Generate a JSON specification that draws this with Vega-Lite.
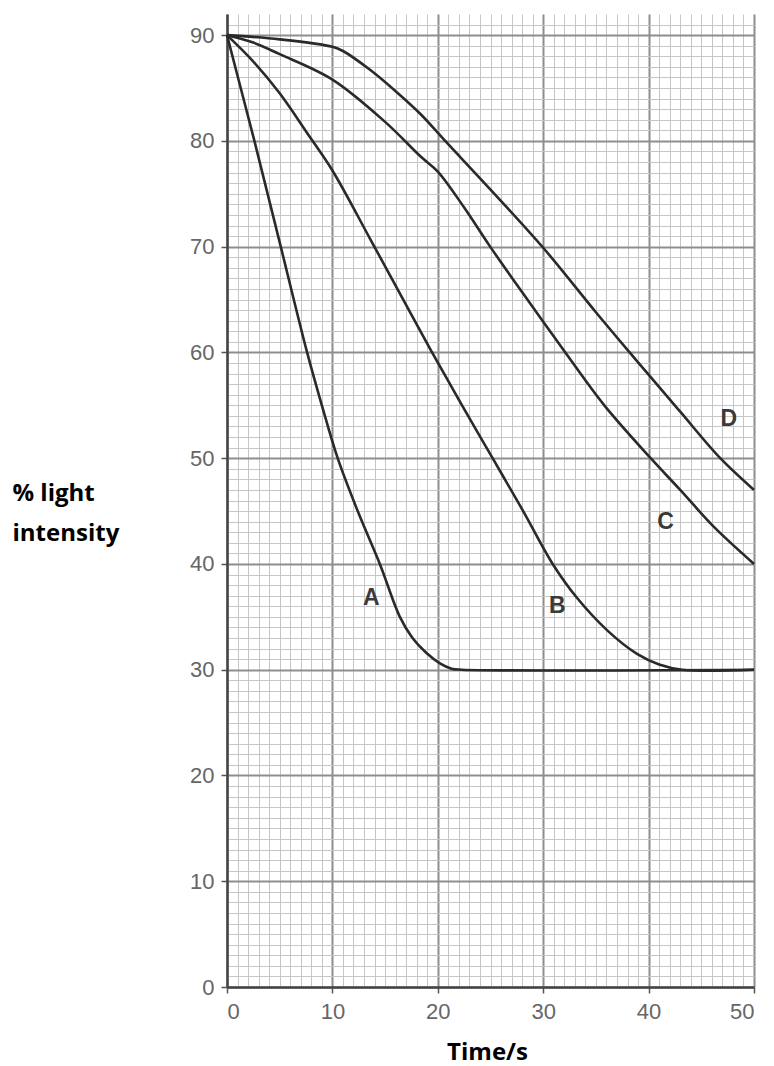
{
  "$schema": "https://vega.github.io/schema/vega-lite/v6.json",
  "autosize": {"type": "none"},
  "padding": {"left": 227, "top": 14, "right": 20, "bottom": 79},
  "width": 527,
  "height": 973,
  "background": "white",
  "config": {"view": {"stroke": null}},
  "datasets": {
    "curves": [
      {"series": "A", "t": 0, "p": 90}, {"series": "A", "t": 1.3, "p": 85}, {"series": "A", "t": 2.6, "p": 80}, {"series": "A", "t": 5.1, "p": 70},
      {"series": "A", "t": 7.6, "p": 60}, {"series": "A", "t": 9.0, "p": 55}, {"series": "A", "t": 10.5, "p": 50}, {"series": "A", "t": 12.4, "p": 45}, {"series": "A", "t": 14.5, "p": 40},
      {"series": "A", "t": 16.4, "p": 35}, {"series": "A", "t": 17.6, "p": 33}, {"series": "A", "t": 18.9, "p": 31.6}, {"series": "A", "t": 20.2, "p": 30.6},
      {"series": "A", "t": 21.3, "p": 30.1}, {"series": "A", "t": 22.3, "p": 30}, {"series": "A", "t": 50, "p": 30},
      {"series": "B", "t": 0, "p": 90}, {"series": "B", "t": 2.5, "p": 87.5}, {"series": "B", "t": 5, "p": 84.5}, {"series": "B", "t": 7.7, "p": 80.6}, {"series": "B", "t": 10, "p": 77.2},
      {"series": "B", "t": 13.6, "p": 70.7}, {"series": "B", "t": 16.5, "p": 65.4}, {"series": "B", "t": 19.4, "p": 60.1}, {"series": "B", "t": 22.3, "p": 55}, {"series": "B", "t": 25.2, "p": 50},
      {"series": "B", "t": 28.1, "p": 45}, {"series": "B", "t": 30.9, "p": 40}, {"series": "B", "t": 33.2, "p": 36.8}, {"series": "B", "t": 36.1, "p": 33.7},
      {"series": "B", "t": 38.9, "p": 31.5}, {"series": "B", "t": 41, "p": 30.5}, {"series": "B", "t": 43.2, "p": 30}, {"series": "B", "t": 50, "p": 30},
      {"series": "C", "t": 0, "p": 90}, {"series": "C", "t": 2.5, "p": 89.3}, {"series": "C", "t": 5, "p": 88.2}, {"series": "C", "t": 10, "p": 85.8},
      {"series": "C", "t": 15, "p": 81.8}, {"series": "C", "t": 18.4, "p": 78.5}, {"series": "C", "t": 20, "p": 77.1}, {"series": "C", "t": 22.5, "p": 73.7},
      {"series": "C", "t": 24.9, "p": 70.1}, {"series": "C", "t": 27.5, "p": 66.4}, {"series": "C", "t": 30, "p": 62.9}, {"series": "C", "t": 32.1, "p": 60},
      {"series": "C", "t": 35.8, "p": 55}, {"series": "C", "t": 40.2, "p": 50}, {"series": "C", "t": 43, "p": 47}, {"series": "C", "t": 46.2, "p": 43.5},
      {"series": "C", "t": 50, "p": 40},
      {"series": "D", "t": 0, "p": 90}, {"series": "D", "t": 5, "p": 89.6}, {"series": "D", "t": 10, "p": 88.9}, {"series": "D", "t": 11, "p": 88.5},
      {"series": "D", "t": 13.6, "p": 86.7}, {"series": "D", "t": 16, "p": 84.7}, {"series": "D", "t": 18.4, "p": 82.5}, {"series": "D", "t": 20.7, "p": 80},
      {"series": "D", "t": 25, "p": 75.4}, {"series": "D", "t": 30, "p": 69.9}, {"series": "D", "t": 35, "p": 63.8}, {"series": "D", "t": 38.2, "p": 60},
      {"series": "D", "t": 40, "p": 57.9}, {"series": "D", "t": 43, "p": 54.4}, {"series": "D", "t": 46.8, "p": 50}, {"series": "D", "t": 50, "p": 47}
    ],
    "labels": [
      {"series": "A", "t": 13.7, "p": 36.8},
      {"series": "B", "t": 31.35, "p": 36.0},
      {"series": "C", "t": 41.6, "p": 44.0},
      {"series": "D", "t": 47.6, "p": 53.7}
    ]
  },
  "layer": [
    {
      "data": {"name": "curves"},
      "mark": {"type": "line", "interpolate": "catmull-rom", "color": "#2a2a2a", "strokeWidth": 2.6},
      "encoding": {
        "x": {
          "field": "t", "type": "quantitative",
          "scale": {"domain": [0, 50], "nice": false, "zero": false},
          "axis": {
            "values": [0,1,2,3,4,5,6,7,8,9,10,11,12,13,14,15,16,17,18,19,20,21,22,23,24,25,26,27,28,29,30,31,32,33,34,35,36,37,38,39,40,41,42,43,44,45,46,47,48,49,50],
            "tickCount": 500,
            "format": "d",
            "labelOverlap": false,
            "grid": true,
            "gridColor": {"condition": {"test": "datum.value % 10 === 0", "value": "#8e8e8e"}, "value": "#c6c6c6"},
            "gridWidth": {"condition": {"test": "datum.value % 10 === 0", "value": 2}, "value": 1},
            "tickOpacity": {"condition": {"test": "datum.value % 10 === 0", "value": 1}, "value": 0},
            "labelExpr": "datum.value % 10 === 0 ? datum.label : ''",
            "labelFont": "Liberation Sans", "labelFontSize": 22, "labelColor": "#666666", "labelPadding": 8,
            "tickColor": "#555555", "tickSize": 6, "tickWidth": 1.5,
            "domainColor": "#444444", "domainWidth": 2.5,
            "title": "Time/s", "titleFont": "Open Sans", "titleFontWeight": "bold", "titleFontSize": 24, "titleColor": "#000000",
            "titleBaseline": "alphabetic", "titleY": 72, "titleX": 260
          }
        },
        "y": {
          "field": "p", "type": "quantitative",
          "scale": {"domain": [0, 92], "nice": false, "zero": false},
          "axis": {
            "values": [0,1,2,3,4,5,6,7,8,9,10,11,12,13,14,15,16,17,18,19,20,21,22,23,24,25,26,27,28,29,30,31,32,33,34,35,36,37,38,39,40,41,42,43,44,45,46,47,48,49,50,51,52,53,54,55,56,57,58,59,60,61,62,63,64,65,66,67,68,69,70,71,72,73,74,75,76,77,78,79,80,81,82,83,84,85,86,87,88,89,90,91],
            "tickCount": 500,
            "format": "d",
            "labelOverlap": false,
            "grid": true,
            "gridColor": {"condition": {"test": "datum.value % 10 === 0", "value": "#8e8e8e"}, "value": "#c6c6c6"},
            "gridWidth": {"condition": {"test": "datum.value % 10 === 0", "value": 2}, "value": 1},
            "tickOpacity": {"condition": {"test": "datum.value % 10 === 0", "value": 1}, "value": 0},
            "labelExpr": "datum.value % 10 === 0 ? datum.label : ''",
            "labelFont": "Liberation Sans", "labelFontSize": 22, "labelColor": "#666666", "labelPadding": 7,
            "tickColor": "#555555", "tickSize": 6, "tickWidth": 1.5,
            "domainColor": "#444444", "domainWidth": 2.5,
            "title": ["% light", "intensity"], "titleFont": "Open Sans", "titleFontWeight": "bold", "titleFontSize": 24, "titleColor": "#000000",
            "titleAngle": 0, "titleAlign": "left", "titleBaseline": "alphabetic", "titleLineHeight": 40,
            "titleX": -215, "titleY": 486
          }
        },
        "detail": {"field": "series", "type": "nominal"}
      }
    },
    {
      "data": {"name": "labels"},
      "mark": {"type": "text", "font": "Liberation Sans", "fontSize": 23, "color": "#3a3a3a", "fontWeight": "bold", "align": "center", "baseline": "middle"},
      "encoding": {
        "x": {"field": "t", "type": "quantitative"},
        "y": {"field": "p", "type": "quantitative"},
        "text": {"field": "series", "type": "nominal"}
      }
    }
  ]
}
